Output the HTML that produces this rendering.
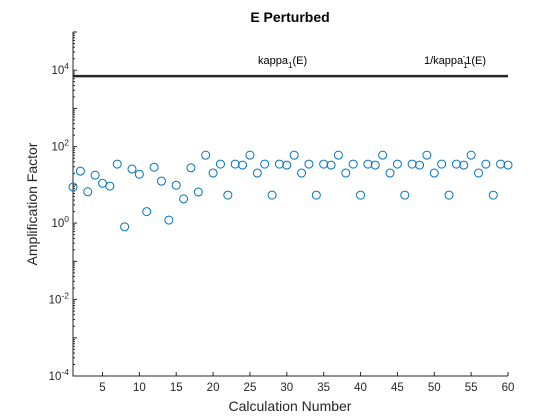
<!DOCTYPE html>
<html><head><meta charset="utf-8"><style>
body{margin:0;background:#fff;}
svg{display:block;font-family:"Liberation Sans",Arial,sans-serif;}
</style></head><body>
<svg id="chart" width="560" height="420" viewBox="0 0 560 420"></svg>
<script>
const xValues = [1,2,3,4,5,6,7,8,9,10,11,12,13,14,15,16,17,18,19,20,21,22,23,24,25,26,27,28,29,30,31,32,33,34,35,36,37,38,39,40,41,42,43,44,45,46,47,48,49,50,51,52,53,54,55,56,57,58,59,60];
const amplification = [8.8,23,6.6,18,11,9.3,35,0.8,26,19,2,29,12.5,1.2,9.8,4.3,28,6.5,60,20.4,35,5.4,35,33,60,20.4,35,5.4,35,33,60,20.4,35,5.4,35,33,60,20.4,35,5.4,35,33,60,20.4,35,5.4,35,33,60,20.4,35,5.4,35,33,60,20.4,35,5.4,35,33];
const kappaLevel = [7000];
const xTicks = [5,10,15,20,25,30,35,40,45,50,55,60];
const yTickExps = [-4,-2,0,2,4];

const NS="http://www.w3.org/2000/svg";
const svg=document.getElementById('chart');
const L=73,R=508,T=32,B=376, X0=1,X1=60, E0=-4,E1=5;
const xs=v=>L+(v-X0)/(X1-X0)*(R-L);
const ys=v=>B-(Math.log10(v)-E0)/(E1-E0)*(B-T);
function mk(tag,attrs,parent){const e=document.createElementNS(NS,tag);for(const k in attrs)e.setAttribute(k,attrs[k]);(parent||svg).appendChild(e);return e;}

const ax=mk('path',{d:`M${L},${T}V${B}H${R}`,stroke:'#262626',fill:'none','stroke-width':1});


xTicks.forEach(t=>{
 const x=xs(t);
 mk('line',{x1:x,x2:x,y1:B,y2:B-4,stroke:'#262626'});
 const tx=mk('text',{x:x,y:B+15,'text-anchor':'middle','font-size':11.5,fill:'#262626'});
 tx.textContent=t;
 
 
});
for(let e=E0;e<=E1;e++){
 mk('line',{x1:L,x2:L+4,y1:ys(Math.pow(10,e)),y2:ys(Math.pow(10,e)),stroke:'#262626'});
 if(e<E1)for(let m=2;m<10;m++){const y=ys(m*Math.pow(10,e));mk('line',{x1:L,x2:L+2,y1:y,y2:y,stroke:'#262626'});}
}
yTickExps.forEach(e=>{
 const y=ys(Math.pow(10,e));
 const tx=mk('text',{x:L-4,y:y+4,'text-anchor':'end','font-size':11.5,fill:'#262626'});
 
 
 tx.appendChild(document.createTextNode('10'));
 const s=mk('tspan',{dy:-5,'font-size':8.5},tx);s.textContent=String(e);
});
const ky=ys(kappaLevel[0]);
const kl=mk('line',{x1:L,x2:R,y1:ky,y2:ky,stroke:'#262626','stroke-width':2.5});


xValues.forEach((x,i)=>{
 const c=mk('circle',{cx:xs(x),cy:ys(amplification[i]),r:4,fill:'none',stroke:'#0072BD','stroke-width':1});
 
 
});
</script>
<svg style="position:absolute;left:0;top:0" width="560" height="420">
<text x="290" y="22" text-anchor="middle" font-size="14" font-weight="bold" fill="#000">E Perturbed</text>
<text x="258" y="64" font-size="11" fill="#000">kappa<tspan dy="4" font-size="8">1</tspan><tspan dy="-4">(E)</tspan></text>
<text x="424" y="64" font-size="11" fill="#000">1/kappa<tspan dy="4" font-size="8">1</tspan><tspan dx="-5" dy="-9" font-size="8">-</tspan><tspan dy="5">1(E)</tspan></text>
<text x="290" y="411" text-anchor="middle" font-size="14" fill="#262626">Calculation Number</text>
<text x="37" y="204" text-anchor="middle" font-size="14" fill="#262626" transform="rotate(-90 37 204)">Amplification Factor</text>
</svg>
</body></html>
